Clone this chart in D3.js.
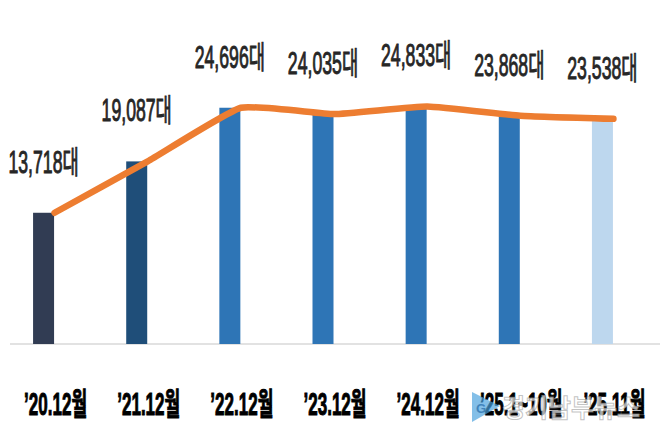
<!DOCTYPE html>
<html>
<head>
<meta charset="utf-8">
<script src="https://cdn.jsdelivr.net/npm/d3@7"></script>
<style>
  html, body { margin: 0; padding: 0; background: #fff; }
  svg { display: block; }
</style>
</head>
<body>
<script>
// ---- data ----
const categories = ["’20.12월", "’21.12월", "’22.12월", "’23.12월", "’24.12월", "’25.1~10월", "’25.11월"];
const values = [13718, 19087, 24696, 24035, 24833, 23868, 23538];
const valueLabels = ["13,718대", "19,087대", "24,696대", "24,035대", "24,833대", "23,868대", "23,538대"];
const barColors = ["#313C53", "#1F4E79", "#2E75B6", "#2E75B6", "#2E75B6", "#2E75B6", "#BDD7EE"];

const W = 669, H = 442;
const svg = d3.select("body").append("svg").attr("width", W).attr("height", H);

const x = d3.scaleBand().domain(categories).range([8, 660]).padding(0);
const y = d3.scaleLinear().domain([0, 30000]).range([344, 57]);
const barW = 21;
const cx = c => x(c) + x.bandwidth() / 2;

// baseline axis
svg.append("line")
  .attr("x1", 10).attr("x2", 660)
  .attr("y1", y(0)).attr("y2", y(0))
  .attr("stroke", "#d9d9d9").attr("stroke-width", 1.5);

// bars (offset left of category centre, like a clustered bar)
svg.selectAll("rect.bar").data(values).enter().append("rect")
  .attr("class", "bar")
  .attr("x", (d, i) => cx(categories[i]) - barW - 0.5)
  .attr("width", barW)
  .attr("y", d => y(d))
  .attr("height", d => y(0) - y(d))
  .attr("fill", (d, i) => barColors[i]);

// line
const line = d3.line()
  .x((d, i) => cx(categories[i]))
  .y(d => y(d))
  .curve(d3.curveCardinal.tension(0.6));
svg.append("path")
  .datum(values)
  .attr("d", line)
  .attr("fill", "none")
  .attr("stroke", "#ED7D31")
  .attr("stroke-width", 6.5)
  .attr("stroke-linecap", "round")
  .attr("stroke-linejoin", "round");

// value labels
const vl = svg.selectAll("g.vl").data(values).enter().append("g")
  .attr("class", "vl")
  .attr("transform", (d, i) => `translate(${cx(categories[i]) - barW / 2 - 0.5},${y(d) - 40}) scale(0.57,1)`);
vl.append("text")
  .attr("text-anchor", "middle")
  .attr("font-family", "'Liberation Sans', Arial, 'Noto Sans CJK KR', sans-serif")
  .attr("font-size", 31)
  .attr("font-weight", 400)
  .attr("fill", "#262626")
  .attr("stroke", "#262626")
  .attr("stroke-width", 1)
  .text((d, i) => valueLabels[i]);

// category labels
const cl = svg.selectAll("g.cl").data(categories).enter().append("g")
  .attr("class", "cl")
  .attr("transform", d => `translate(${cx(d) + 1},415) scale(0.55,1)`);
cl.append("text")
  .attr("text-anchor", "middle")
  .attr("font-family", "'Liberation Sans', Arial, 'Noto Sans CJK KR', sans-serif")
  .attr("font-size", 31)
  .attr("font-weight", 700)
  .attr("fill", "#000")
  .attr("stroke", "#000")
  .attr("stroke-width", 1)
  .text(d => d);

// watermark
const wm = svg.append("g").attr("opacity", 0.85);
wm.append("path")
  .attr("d", "M472,392 L500,406 L472,422 Z")
  .attr("fill", "#4aa3df").attr("opacity", 0.8);
wm.append("text")
  .attr("x", 481).attr("y", 413)
  .attr("text-anchor", "middle")
  .attr("font-family", "'Liberation Sans', Arial, sans-serif")
  .attr("font-size", 13).attr("font-weight", 700)
  .attr("fill", "#1f6fb0").text("G");
wm.append("text")
  .attr("x", 502).attr("y", 417)
  .attr("font-family", "'Noto Sans CJK KR', sans-serif")
  .attr("font-size", 25)
  .attr("font-weight", 700)
  .attr("fill", "#ffffff").attr("fill-opacity", 0.8)
  .attr("stroke", "#9a9a9a").attr("stroke-width", 1).attr("stroke-opacity", 0.7)
  .text("경기남부뉴스");
</script>
</body>
</html>
